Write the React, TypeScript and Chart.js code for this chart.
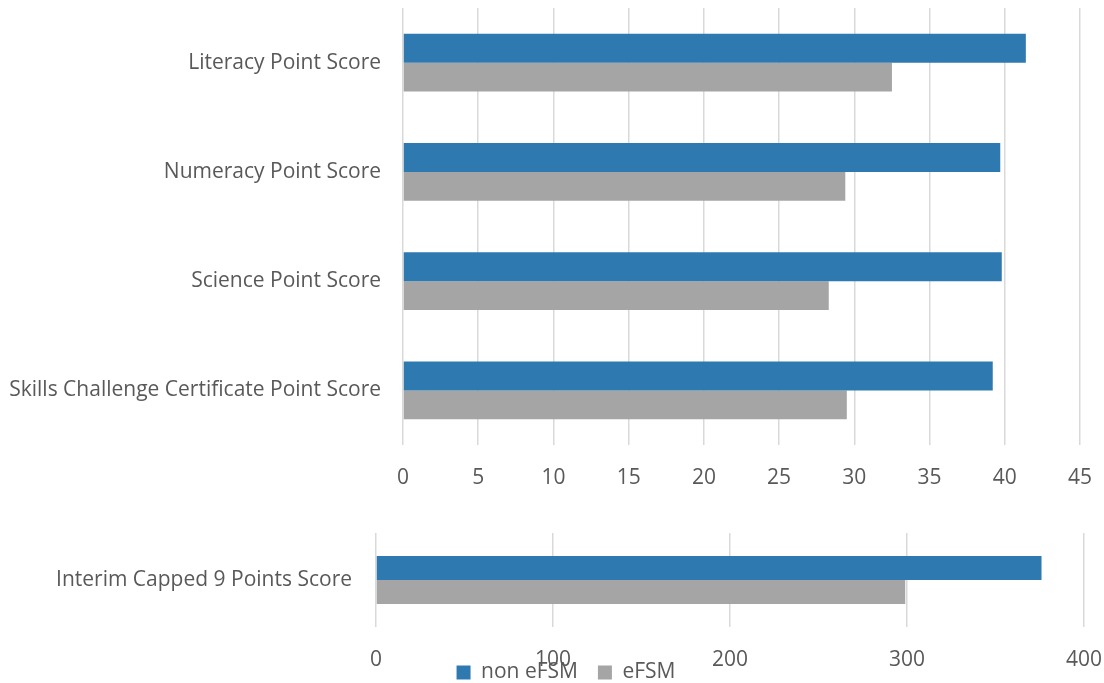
import React, { useEffect, useRef } from "react";
import { Chart, registerables } from "chart.js";

Chart.register(...registerables);

const topCategories = [
  "Literacy Point Score",
  "Numeracy Point Score",
  "Science Point Score",
  "Skills Challenge Certificate Point Score",
];
const topNonEFSM = [41.4, 39.7, 39.8, 39.2];
const topEFSM = [32.5, 29.4, 28.3, 29.5];

const bottomCategories = ["Interim Capped 9 Points Score"];
const bottomNonEFSM = [376];
const bottomEFSM = [299];

const seriesNames = ["non eFSM", "eFSM"];
const BLUE = "#2E7AB0";
const GRAY = "#A5A5A5";
const TEXT = "#595959";
const GRID = "#D9D9D9";
const FONT = "'Open Sans', 'DejaVu Sans', sans-serif";
const FS = 21;

function TopChart() {
  const ref = useRef<HTMLCanvasElement | null>(null);
  useEffect(() => {
    if (!ref.current) return;
    const chart = new Chart(ref.current, {
      type: "bar",
      data: {
        labels: topCategories,
        datasets: [
          { label: seriesNames[0], data: topNonEFSM, backgroundColor: BLUE, categoryPercentage: 0.53, barPercentage: 1.0 },
          { label: seriesNames[1], data: topEFSM, backgroundColor: GRAY, categoryPercentage: 0.53, barPercentage: 1.0 },
        ],
      },
      options: {
        indexAxis: "y",
        animation: false,
        responsive: false,
        maintainAspectRatio: false,
        layout: { padding: { top: 8, right: 24, left: 0, bottom: 0 } },
        plugins: { legend: { display: false }, tooltip: { enabled: false } },
        scales: {
          x: {
            min: 0,
            max: 45,
            ticks: { stepSize: 5, color: TEXT, font: { family: FONT, size: FS }, padding: 20 },
            grid: { color: GRID, lineWidth: 1.5, drawTicks: false },
            border: { display: false },
            afterFit: (s: any) => { s.height = 55; s.paddingLeft = 0; s.paddingRight = 0; },
          },
          y: {
            ticks: { color: TEXT, font: { family: FONT, size: FS }, padding: 22 },
            grid: { display: false, drawTicks: false },
            border: { display: false },
            afterFit: (s: any) => { s.width = 403; s.paddingTop = 0; s.paddingBottom = 0; },
          },
        },
      },
    });
    return () => chart.destroy();
  }, []);
  return (
    <div style={{ position: "absolute", left: 0, top: 0, width: 1104, height: 500 }}>
      <canvas ref={ref} width={1104} height={500} />
    </div>
  );
}

function BottomChart() {
  const ref = useRef<HTMLCanvasElement | null>(null);
  useEffect(() => {
    if (!ref.current) return;
    const chart = new Chart(ref.current, {
      type: "bar",
      data: {
        labels: bottomCategories,
        datasets: [
          { label: seriesNames[0], data: bottomNonEFSM, backgroundColor: BLUE, categoryPercentage: 0.51, barPercentage: 1.0 },
          { label: seriesNames[1], data: bottomEFSM, backgroundColor: GRAY, categoryPercentage: 0.51, barPercentage: 1.0 },
        ],
      },
      options: {
        indexAxis: "y",
        animation: false,
        responsive: false,
        maintainAspectRatio: false,
        layout: { padding: { top: 13, right: 20, left: 0, bottom: 0 } },
        plugins: { legend: { display: false }, tooltip: { enabled: false } },
        scales: {
          x: {
            min: 0,
            max: 400,
            ticks: { stepSize: 100, color: TEXT, font: { family: FONT, size: FS }, padding: 20 },
            grid: { color: GRID, lineWidth: 1.5, drawTicks: false },
            border: { display: false },
            afterFit: (s: any) => { s.height = 56; s.paddingLeft = 0; s.paddingRight = 0; },
          },
          y: {
            ticks: { color: TEXT, font: { family: FONT, size: FS }, padding: 24 },
            grid: { display: false, drawTicks: false },
            border: { display: false },
            afterFit: (s: any) => { s.width = 376; s.paddingTop = 0; s.paddingBottom = 0; },
          },
        },
      },
    });
    return () => chart.destroy();
  }, []);
  return (
    <div style={{ position: "absolute", left: 0, top: 520, width: 1104, height: 163 }}>
      <canvas ref={ref} width={1104} height={163} />
    </div>
  );
}

function LegendChart() {
  const ref = useRef<HTMLCanvasElement | null>(null);
  useEffect(() => {
    if (!ref.current) return;
    const chart = new Chart(ref.current, {
      type: "bar",
      data: {
        labels: [],
        datasets: [
          { label: seriesNames[0], data: [], backgroundColor: BLUE },
          { label: seriesNames[1], data: [], backgroundColor: GRAY },
        ],
      },
      options: {
        animation: false,
        responsive: false,
        maintainAspectRatio: false,
        layout: { padding: { top: 12, left: 0, right: 0, bottom: 0 } },
        plugins: {
          legend: {
            display: true,
            position: "top",
            labels: { boxWidth: 14, boxHeight: 14, color: TEXT, font: { family: FONT, size: FS }, padding: 20 },
          },
          tooltip: { enabled: false },
        },
        scales: { x: { display: false }, y: { display: false } },
      },
    });
    return () => chart.destroy();
  }, []);
  return (
    <div style={{ position: "absolute", left: 28, top: 630, width: 1076, height: 120, pointerEvents: "none" }}>
      <canvas ref={ref} width={1076} height={120} />
    </div>
  );
}

export default function App() {
  return (
    <div style={{ position: "absolute", left: 0, top: 0, width: 1104, height: 683, background: "#fff", overflow: "hidden" }}>
      <TopChart />
      <BottomChart />
      <LegendChart />
    </div>
  );
}
